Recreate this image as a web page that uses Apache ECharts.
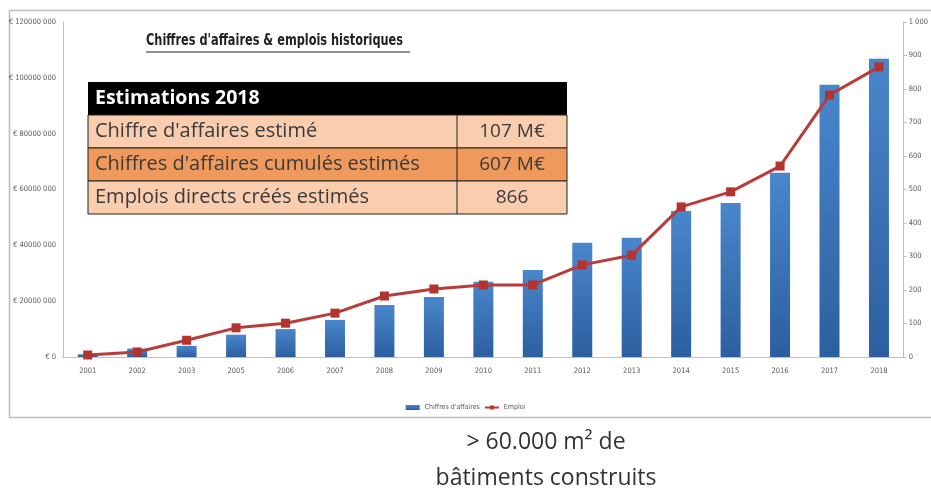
<!DOCTYPE html>
<html>
<head>
<meta charset="utf-8">
<script src="https://cdn.jsdelivr.net/npm/echarts@6/dist/echarts.min.js"></script>
<style>
  html, body { margin: 0; padding: 0; background: #fff; }
  #main { width: 931px; height: 492px; }
</style>
</head>
<body>
<div id="main"></div>
<script>
// années (2004 absent dans l'original)
var years = ['2001', '2002', '2003', '2005', '2006', '2007', '2008', '2009', '2010',
  '2011', '2012', '2013', '2014', '2015', '2016', '2017', '2018'];
// chiffre d'affaires en euros
var chiffres = [1000000, 3000000, 4000000, 8000000, 10000000, 13300000, 18600000, 21500000,
  27000000, 31200000, 40900000, 42700000, 52300000, 55200000, 66000000, 97500000, 106800000];
// emplois
var emplois = [6, 15, 50, 87, 101, 131, 182, 203, 215, 215, 275, 304, 448, 493, 570, 782, 866];

var tableHeader = 'Estimations 2018';
var tableLabels = ["Chiffre d'affaires estimé", "Chiffres d'affaires cumulés estimés", 'Emplois directs créés estimés'];
var tableValues = ['107 M€', '607 M€', '866'];
var tableColors = ['#f9cdae', '#ef9a5c', '#f9cdae'];

var chart = echarts.init(document.getElementById('main'));

var narrow = "'Liberation Sans Narrow', 'DejaVu Sans Condensed', sans-serif";
var tableFont = "'Open Sans', sans-serif";

// tableau des estimations
var tbl = [];
var tx = 88, ty = 82, tw = 479, rh = 33, colX = 457;
tbl.push({ type: 'rect', shape: { x: tx, y: ty, width: tw, height: rh }, style: { fill: '#000' } });
tbl.push({ type: 'text', x: tx + 7, y: ty + rh / 2, style: { text: tableHeader, fill: '#fff', font: 'bold 19.5px ' + tableFont, verticalAlign: 'middle' } });
for (var i = 0; i < tableLabels.length; i++) {
  var y = ty + rh * (i + 1);
  tbl.push({ type: 'rect', shape: { x: tx, y: y, width: tw, height: rh }, style: { fill: tableColors[i], stroke: '#222', lineWidth: 1 } });
  tbl.push({ type: 'line', shape: { x1: colX, y1: y, x2: colX, y2: y + rh }, style: { stroke: '#222', lineWidth: 1 } });
  tbl.push({ type: 'text', x: tx + 7, y: y + rh / 2, style: { text: tableLabels[i], fill: '#3a3a3a', font: '20px ' + tableFont, verticalAlign: 'middle' } });
  tbl.push({ type: 'text', x: (colX + tx + tw) / 2, y: y + rh / 2, style: { text: tableValues[i], fill: '#3a3a3a', font: '19px ' + tableFont, align: 'center', verticalAlign: 'middle' } });
}

var option = {
  backgroundColor: '#fff',
  animation: false,
  grid: { left: 63, right: 21, top: 22, bottom: 135 },
  legend: {
    left: 'center', top: 399,
    itemWidth: 14, itemHeight: 5, itemGap: 4,
    textStyle: { fontSize: 7, color: '#595959', fontFamily: narrow },
    data: [
      { name: "Chiffres d'affaires", icon: 'rect' },
      { name: 'Emploi' }
    ]
  },
  xAxis: {
    type: 'category',
    data: years,
    axisLine: { lineStyle: { color: '#bfbfbf' } },
    axisTick: { show: false },
    axisLabel: { color: '#595959', fontSize: 7.5, fontFamily: narrow, margin: 10 }
  },
  yAxis: [{
    type: 'value', min: 0, max: 120000000, interval: 20000000,
    splitLine: { show: false },
    axisLine: { show: true, lineStyle: { color: '#bfbfbf' } },
    axisTick: { show: false },
    axisLabel: {
      color: '#595959', fontSize: 7.5, fontFamily: narrow, margin: 7,
      formatter: function (v) { return v === 0 ? '€ 0' : '€ ' + Math.round(v / 1000) + ' 000'; }
    }
  }, {
    type: 'value', min: 0, max: 1000, interval: 100,
    splitLine: { show: false },
    axisLine: { show: true, lineStyle: { color: '#bfbfbf' } },
    axisTick: { show: true, length: 3, lineStyle: { color: '#bfbfbf' } },
    axisLabel: {
      color: '#595959', fontSize: 7.5, fontFamily: narrow, margin: 5,
      formatter: function (v) { return v === 1000 ? '1 000' : String(v); }
    }
  }],
  series: [{
    name: "Chiffres d'affaires",
    type: 'bar',
    data: chiffres,
    barWidth: 20,
    itemStyle: {
      color: new echarts.graphic.LinearGradient(0, 0, 0, 1, [
        { offset: 0, color: '#4a86cc' },
        { offset: 1, color: '#2c5f9f' }
      ])
    }
  }, {
    name: 'Emploi',
    type: 'line',
    yAxisIndex: 1,
    data: emplois,
    symbol: 'rect',
    symbolSize: 9,
    lineStyle: { color: '#b83d3a', width: 3 },
    itemStyle: { color: '#b5332f' }
  }],
  graphic: [
    { type: 'rect', shape: { x: 9.5, y: 10.5, width: 930, height: 407 }, style: { fill: 'none', stroke: '#bdbdbd', lineWidth: 1.5 }, z: -1 },
    { type: 'text', x: 146, y: 34, scaleX: 0.84, style: { text: "Chiffres d'affaires & emplois historiques", fill: '#222', font: 'bold 15px ' + narrow } },
    { type: 'line', shape: { x1: 146, y1: 52, x2: 410, y2: 52 }, style: { stroke: '#222', lineWidth: 1 } },
    { type: 'group', children: tbl, z: 10 },
    { type: 'text', x: 546, y: 442, style: { text: '> 60.000 m² de', fill: '#333', font: '23px ' + tableFont, align: 'center', verticalAlign: 'middle' } },
    { type: 'text', x: 546, y: 478, style: { text: 'bâtiments construits', fill: '#333', font: '23px ' + tableFont, align: 'center', verticalAlign: 'middle' } }
  ]
};

chart.setOption(option);
</script>
</body>
</html>
